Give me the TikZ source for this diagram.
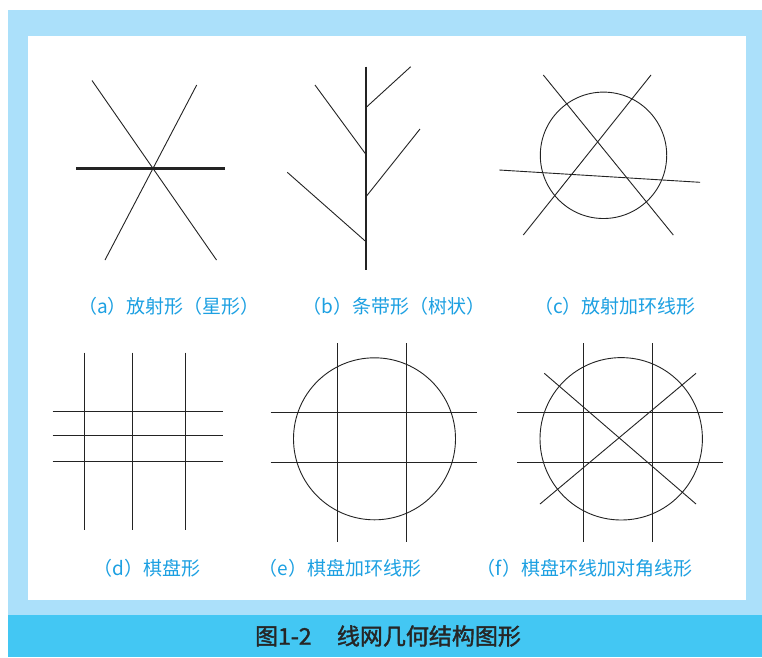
\documentclass[tikz,border=0pt]{standalone}
\usepackage{fontspec}
\newfontfamily\cjk{Noto Sans CJK SC}
\newfontfamily\cjkcap[FakeBold=1.6]{Noto Sans CJK SC}
\definecolor{lightframe}{RGB}{171,224,250}
\definecolor{darkbar}{RGB}{67,199,243}
\definecolor{labelblue}{RGB}{28,160,226}
\definecolor{inkline}{RGB}{35,35,35}
\tikzset{
  thinline/.style={draw=inkline, line width=0.9pt},
  thickline/.style={draw=inkline, line width=2.4pt},
  sublabel/.style={text=labelblue, font=\cjk\fontsize{19}{19}\selectfont, inner sep=0pt},
  captionlabel/.style={text=black!85, font=\cjkcap\fontsize{23}{23}\selectfont, inner sep=0pt}
}
\begin{document}
\begin{tikzpicture}[x=1pt,y=-1pt]
\useasboundingbox (0,0) rectangle (762,657);
% frame
\fill[white] (0,0) rectangle (762,657);
\fill[lightframe] (8,10) rectangle (762,615);
\fill[white] (28,36) rectangle (746,600);
\fill[darkbar] (8,615) rectangle (762,657);
\node[captionlabel] (cap) at (388,636) {图1-2\hspace{1.1em}线网几何结构图形};

% (a) star
\draw[thickline] (76,168.5) -- (225,168.5);
\draw[thinline] (92,80.5) -- (216.5,260);
\draw[thinline] (196.7,85) -- (105,260);
\node[sublabel] (la) at (169,306) {（a）放射形（星形）};

% (b) tree
\draw[thickline] (366,66.5) -- (366,270);
\draw[thinline] (366,107.5) -- (410.7,66.7);
\draw[thinline] (315,85) -- (366,154.5);
\draw[thinline] (420,129) -- (366,196.7);
\draw[thinline] (287.3,172.3) -- (366,241.7);
\node[sublabel] (lb) at (394,306) {（b）条带形（树状）};

% (c) star with ring
\draw[thinline] (603.5,155.3) circle (63.2);
\draw[thinline] (543.3,75) -- (673.3,235);
\draw[thinline] (651,75) -- (523.3,235);
\draw[thinline] (499.3,170) -- (700,182.3);
\node[sublabel] (lc) at (615,306) {（c）放射加环线形};

% (d) grid
\foreach \x in {84.3,132.7,185.7} \draw[thinline] (\x,352.7) -- (\x,530);
\foreach \y in {411.7,435.7,461.7} \draw[thinline] (52.7,\y) -- (223.3,\y);
\node[sublabel] (ld) at (147,568) {（d）棋盘形};

% (e) grid with ring
\draw[thinline] (374.5,438.8) circle (81);
\foreach \x in {337.3,406} \draw[thinline] (\x,343.3) -- (\x,542.3);
\foreach \y in {412,462} \draw[thinline] (270.7,\y) -- (476.7,\y);
\node[sublabel] (le) at (340,568) {（e）棋盘加环线形};

% (f) grid with ring and diagonals
\draw[thinline] (621.2,438.8) circle (81.2);
\foreach \x in {583.7,652.3} \draw[thinline] (\x,343.3) -- (\x,542.3);
\foreach \y in {412,462} \draw[thinline] (517.3,\y) -- (723.3,\y);
\draw[thinline] (544.3,373.3) -- (696,504);
\draw[thinline] (696,373.3) -- (540,504);
\node[sublabel] (lf) at (584.5,568) {（f）棋盘环线加对角线形};
\end{tikzpicture}
\end{document}
